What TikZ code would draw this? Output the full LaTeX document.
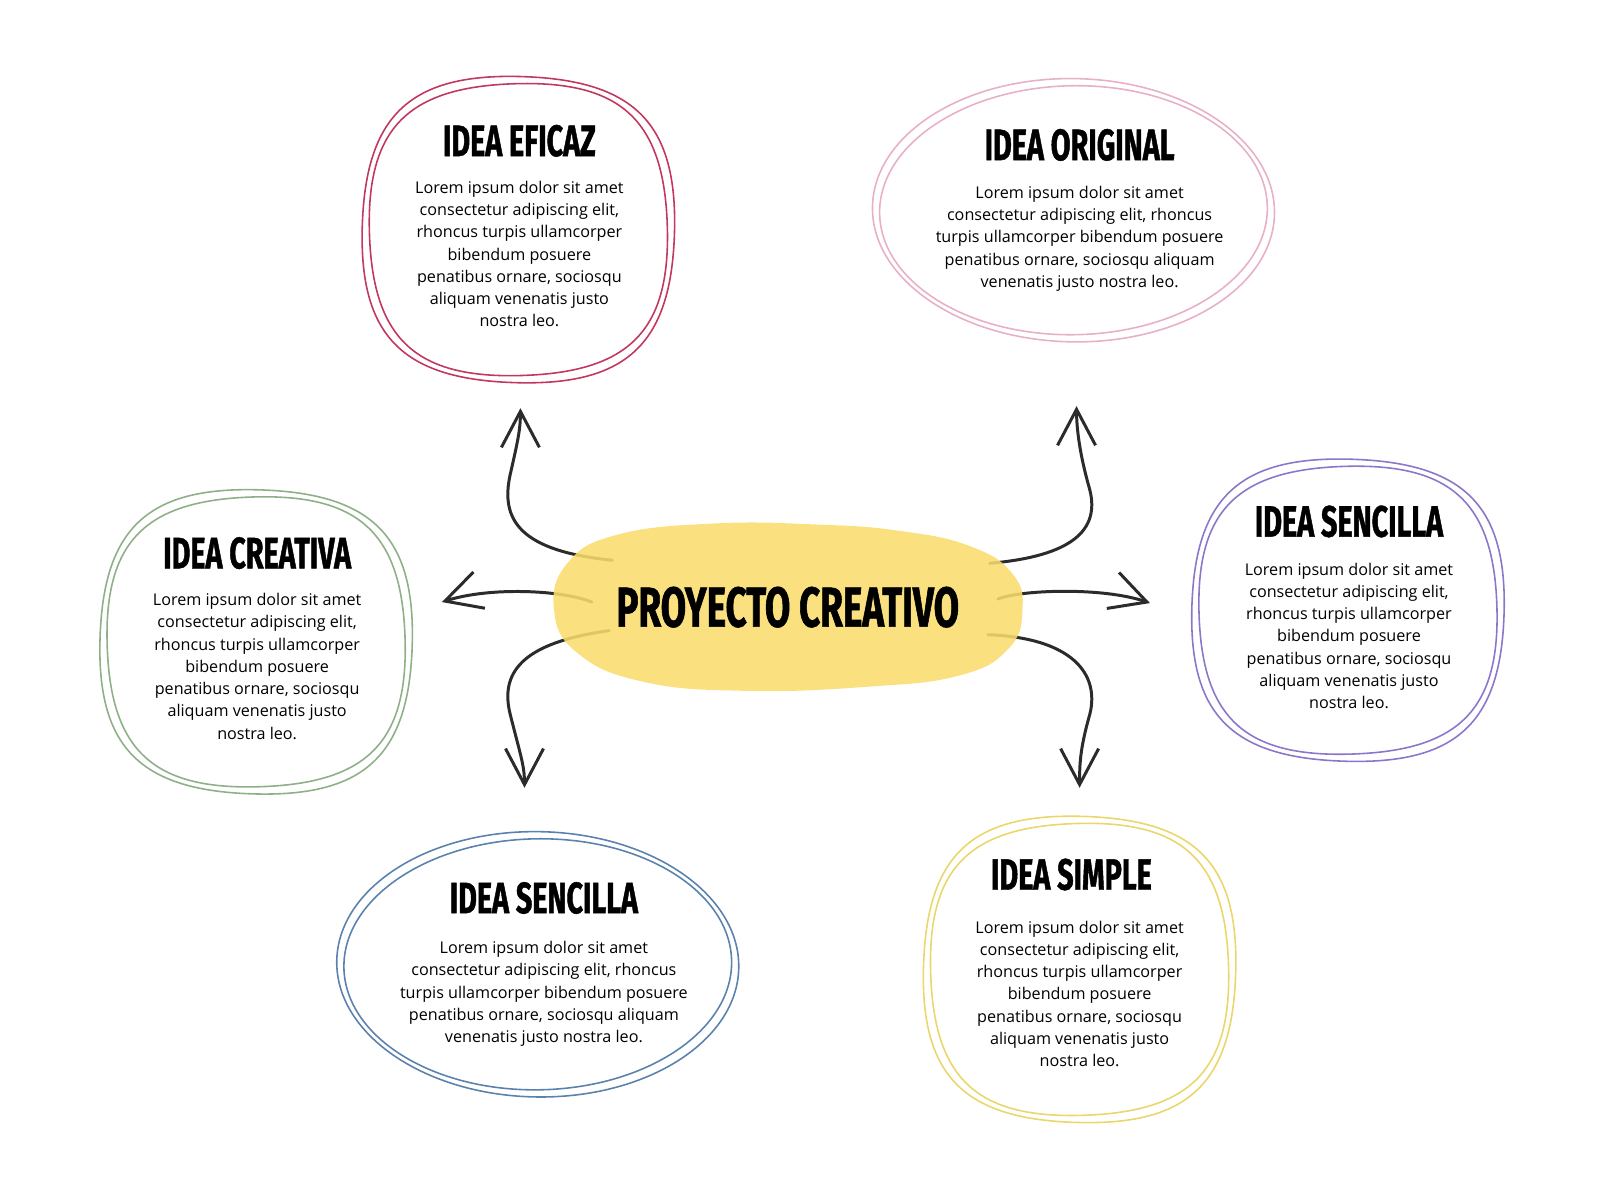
\documentclass[tikz,border=0pt]{standalone}
\usepackage{fontspec}
\setmainfont{Open Sans}
\newfontfamily\titlefont[FakeStretch=0.655,FakeBold=1]{Fira Sans}
\usetikzlibrary{arrows.meta}

\definecolor{eficaz}{HTML}{C2375E}
\definecolor{original}{HTML}{E8AFC8}
\definecolor{creativa}{HTML}{8FAF88}
\definecolor{sencilla}{HTML}{8C76C9}
\definecolor{sencillab}{HTML}{5A82AC}
\definecolor{simple}{HTML}{EAD66A}
\definecolor{blob}{HTML}{F9DC6C}
\definecolor{ink}{HTML}{2B2B2B}

% rounded square drawn twice, centre x, centre y, half width, half height, colour
\newcommand{\squirclebox}[5]{%
  \foreach \d/\r in {0/-2,7/2}
    \draw[outline,#5,rotate around={\r:(#1,#2)}]
      ({#1+#3-\d},#2) .. controls ({#1+#3-\d},{#2-0.72*(#4-\d)}) and ({#1+0.72*(#3-\d)},{#2-#4+\d}) .. (#1,{#2-#4+\d})
      .. controls ({#1-0.72*(#3-\d)},{#2-#4+\d}) and ({#1-#3+\d},{#2-0.72*(#4-\d)}) .. ({#1-#3+\d},#2)
      .. controls ({#1-#3+\d},{#2+0.72*(#4-\d)}) and ({#1-0.72*(#3-\d)},{#2+#4-\d}) .. (#1,{#2+#4-\d})
      .. controls ({#1+0.72*(#3-\d)},{#2+#4-\d}) and ({#1+#3-\d},{#2+0.72*(#4-\d)}) .. cycle;
}
% ellipse drawn twice
\newcommand{\ringoval}[5]{%
  \foreach \d/\r in {0/-1,7/1}
    \draw[outline,#5,rotate around={\r:(#1,#2)}] (#1,#2) ellipse [x radius={#3-\d}, y radius={#4-\d}];
}

\begin{document}
\begin{tikzpicture}[x=0.010204cm,y=-0.010204cm,
    outline/.style={line width=0.45pt},
    arrow/.style={ink,line width=0.85pt,line cap=round,-{Straight Barb[length=3.6mm,width=3.8mm]}},
    title/.style={font=\titlefont\bfseries\fontsize{12.5}{14}\selectfont},
    body/.style={align=center,font=\fontsize{4.6}{6.33}\selectfont,inner sep=0pt}]

  \useasboundingbox (0,0) rectangle (1568,1176);

  % outlines
  \squirclebox{508}{225}{153}{150}{eficaz}
  \ringoval{1052}{206}{197}{129}{original}
  \squirclebox{251}{629}{153}{149}{creativa}
  \squirclebox{1321}{598}{153}{148}{sencilla}
  \ringoval{527}{945}{197}{130}{sencillab}
  \squirclebox{1058}{950}{153}{150}{simple}

  % arrow ends
  \coordinate (s-ul) at (600,549);
  \coordinate (s-ur) at (970,552);
  \coordinate (s-l) at (580,590);
  \coordinate (s-r) at (978,587);
  \coordinate (s-dl) at (597,618);
  \coordinate (s-dr) at (968,622);
  \coordinate (t-ul) at (510,400);
  \coordinate (t-ur) at (1055,398);
  \coordinate (t-l) at (433,590);
  \coordinate (t-r) at (1127,591);
  \coordinate (t-dl) at (514,772);
  \coordinate (t-dr) at (1058,772);

  \draw[arrow] (s-ul) .. controls (510,540) and (490,510) .. (500,465) .. controls (508,430) and (510,420) .. (t-ul);
  \draw[arrow] (s-ur) .. controls (1050,545) and (1078,520) .. (1068,480) .. controls (1058,445) and (1055,420) .. (t-ur);
  \draw[arrow] (s-l) .. controls (550,578) and (480,575) .. (t-l);
  \draw[arrow] (s-r) .. controls (1000,578) and (1080,575) .. (t-r);
  \draw[arrow] (s-dl) .. controls (510,630) and (490,660) .. (500,700) .. controls (510,740) and (514,750) .. (t-dl);
  \draw[arrow] (s-dr) .. controls (1050,625) and (1078,660) .. (1068,700) .. controls (1058,735) and (1058,750) .. (t-dr);

  % centre
  \fill[blob,fill opacity=0.88] plot[smooth cycle,tension=0.75] coordinates {(543,598) (556,552) (605,524) (700,513) (800,514) (880,520) (950,535) (992,562) (1002,598) (988,636) (940,662) (850,673) (730,677) (630,668) (566,640)};
  \node[title,font=\titlefont\bfseries\fontsize{16}{18}\selectfont] (hub) at (772,595) {PROYECTO CREATIVO};

  % texts
  \node[title] (eficaz) at (509,138) {IDEA EFICAZ};
  \node[body] (eficaz-text) at (509,249) {Lorem ipsum dolor sit amet\\consectetur adipiscing elit,\\rhoncus turpis ullamcorper\\bibendum posuere\\penatibus ornare, sociosqu\\aliquam venenatis justo\\nostra leo.};

  \node[title] (original) at (1058,142) {IDEA ORIGINAL};
  \node[body] (original-text) at (1058,234) {Lorem ipsum dolor sit amet\\consectetur adipiscing elit, rhoncus\\turpis ullamcorper bibendum posuere\\penatibus ornare, sociosqu aliquam\\venenatis justo nostra leo.};

  \node[title] (creativa) at (252,542) {IDEA CREATIVA};
  \node[body] (creativa-text) at (252,653) {Lorem ipsum dolor sit amet\\consectetur adipiscing elit,\\rhoncus turpis ullamcorper\\bibendum posuere\\penatibus ornare, sociosqu\\aliquam venenatis justo\\nostra leo.};

  \node[title] (sencilla) at (1322,511) {IDEA SENCILLA};
  \node[body] (sencilla-text) at (1322,623) {Lorem ipsum dolor sit amet\\consectetur adipiscing elit,\\rhoncus turpis ullamcorper\\bibendum posuere\\penatibus ornare, sociosqu\\aliquam venenatis justo\\nostra leo.};

  \node[title] (sencillab) at (533,880) {IDEA SENCILLA};
  \node[body] (sencillab-text) at (533,974) {Lorem ipsum dolor sit amet\\consectetur adipiscing elit, rhoncus\\turpis ullamcorper bibendum posuere\\penatibus ornare, sociosqu aliquam\\venenatis justo nostra leo.};

  \node[title] (simple) at (1050,857) {IDEA SIMPLE};
  \node[body] (simple-text) at (1058,974) {Lorem ipsum dolor sit amet\\consectetur adipiscing elit,\\rhoncus turpis ullamcorper\\bibendum posuere\\penatibus ornare, sociosqu\\aliquam venenatis justo\\nostra leo.};
\end{tikzpicture}
\end{document}
